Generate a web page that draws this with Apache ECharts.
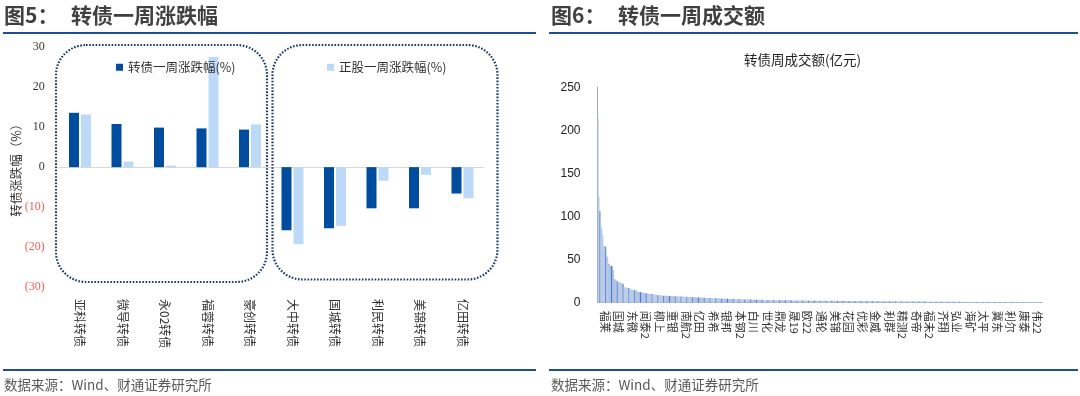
<!DOCTYPE html>
<html>
<head>
<meta charset="utf-8">
<script src="https://cdn.jsdelivr.net/npm/echarts@6/dist/echarts.min.js"></script>
<style>
html,body{margin:0;padding:0;background:#fff;}
#chart{width:1080px;height:396px;}
</style>
</head>
<body>
<div id="chart"></div>
<script>
// ---------- Chart 5: weekly change ----------
const changeCats = ['亚科转债','微导转债','永02转债','福蓉转债','豪创转债','大中转债','国城转债','利民转债','美锦转债','亿田转债'];
const bondChange = [13.6, 10.8, 9.9, 9.7, 9.4, -15.8, -15.3, -10.3, -10.3, -6.6];
const stockChange = [13.2, 1.4, 0.4, 27.6, 10.7, -19.3, -14.7, -3.4, -1.9, -7.8];
const changeTicks = [-30, -20, -10, 0, 10, 20, 30];

// ---------- Chart 6: weekly turnover (100m CNY), sorted ----------
const volumeLabels = ['福莱','国城','东微','闻泰2','柳上','重银','南航2','亿田','希希','银邦','本钢2','白川','世化','鼎龙','晟19','欧22','通轮','美锦','花园','优彩','金威','利群','精测2','奇帝','福未2','齐翔','弘业','海矿','太平','冀东','利尔','康泰','伟22'];
const volumeValues = [
214,123,106,89,85.5,78.6,66,65.5,65,55,53,45.5,45,43,42.5,42,38,27.5,27,26,
24.5,24.4,24,23.6,22.5,22.3,22,
18,17.8,17.6,17.4,17.2,17,16.5,
15.5,15.2,15,14.8,14.6,14.3,14,
13,12.6,12.4,12.2,12,11.8,11.5,
11.2,11,10.9,10.7,10.5,10.4,10.2,10.1,10,9.8,9.6,9.4,9.2,9,
8.8,8.7,8.6,8.5,8.4,8.3,8.2,8.2,8.1,8.0,7.9,7.9,7.8,7.8,7.7,7.6,7.6,7.5,7.5,7.4,7.4,7.3,7.3,7.2,7.2,7.1,7.1,7.0,
6.9,6.8,6.8,6.7,6.6,6.6,6.5,6.5,6.4,6.3,6.3,6.2,6.2,6.1,6.0,6.0,5.9,5.9,5.8,5.8,5.7,5.7,5.6,5.6,5.5,5.5,5.4,5.4,5.3,5.3,5.2,5.2,5.1,5.1,5.0,
4.9,4.9,4.8,4.8,4.7,4.7,4.6,4.6,4.5,4.5,4.4,4.4,4.3,4.3,4.3,4.2,4.2,4.1,4.1,4.1,4.0,4.0,4.0,3.9,3.9,3.9,3.8,3.8,3.8,3.7,3.7,3.7,3.7,3.6,3.6,
3.5,3.5,3.5,3.4,3.4,3.4,3.4,3.3,3.3,3.3,3.3,3.2,3.2,3.2,3.2,3.1,3.1,3.1,3.1,3.0,
3.0,3.0,3.0,3.0,2.9,2.9,2.9,2.9,2.9,2.8,2.8,2.8,2.8,2.8,2.8,2.7,2.7,2.7,2.7,2.7,
2.7,2.6,2.6,2.6,2.6,2.6,2.6,2.6,2.5,2.5,2.5,2.5,2.5,2.5,2.5,2.5,2.4,2.4,2.4,2.4,
2.4,2.4,2.4,2.4,2.4,2.3,2.3,2.3,2.3,2.3,2.3,2.3,2.3,2.3,2.3,2.3,2.2,2.2,2.2,2.2,
2.2,2.2,2.2,2.2,2.2,2.2,2.2,2.2,2.1,2.1,2.1,2.1,2.1,2.1,2.1,2.1,2.1,
2.1,2.0,2.0,2.0,2.0,2.0,2.0,2.0,2.0,1.9,1.9,1.9,1.9,1.9,1.9,1.9,1.9,1.9,1.8,1.8,
1.8,1.8,1.8,1.8,1.8,1.8,1.8,1.8,1.7,1.7,1.7,1.7,1.7,1.7,1.7,1.7,1.7,1.7,1.6,1.6,
1.6,1.6,1.6,1.6,1.6,1.6,1.6,1.6,1.6,1.5,1.5,1.5,1.5,1.5,1.5,1.5,1.5,1.5,1.5,1.5,
1.4,1.4,1.4,1.4,1.4,1.4,1.4,1.4,1.4,1.4,1.4,1.3,1.3,1.3,1.3,1.3,1.3,1.3,1.3,1.3,
1.3,1.3,1.3,1.2,1.2,1.2,1.2,1.2,1.2,1.2,1.2,1.2,1.2,1.2,1.2,1.1,1.1,1.1,1.1,1.1,
1.1,1.1,1.1,1.1,1.1,1.1,1.1,1.0,1.0,1.0,1.0,1.0,1.0,1.0,1.0,1.0,1.0,1.0,1.0,1.0,
1.0,0.9,0.9,0.9,0.9,0.9,0.9,0.9,0.9,0.9,0.9,0.9,0.9,0.9,0.9,0.9,0.9,0.9,0.8,0.8,
0.8,0.8,0.8,0.8,0.8,0.8,0.8,0.8,0.8,0.8,0.8,0.8,0.8,0.8,0.8,0.8,0.7,0.7,
0.7,0.7,0.7,0.7,0.7,0.7,0.7,0.7,0.7,0.7,0.7,0.7,0.7,0.7,0.7,0.7,0.7,0.7,0.7,0.7,
0.7,0.7,0.6,0.6,0.6,0.6,0.6,0.6,0.6,0.6,0.6,0.6,0.6,0.6,0.6,0.6,0.6,0.6,0.6,0.6,
0.6,0.5,0.5,0.5,0.5
];
const volumeTicks = [0, 50, 100, 150, 200, 250];
const LABEL_STEP = 14, LABEL_OFFSET = 7;
const volumeCats = volumeValues.map((v, i) =>
  (i % LABEL_STEP === LABEL_OFFSET && volumeLabels[(i - LABEL_OFFSET) / LABEL_STEP]) || ('b' + i));

const CJK = '"Noto Sans CJK SC", "Noto Sans", sans-serif';
const chart = echarts.init(document.getElementById('chart'), null, {renderer: 'canvas'});

function titleText(x, text) {
  return {type: 'text', left: x, top: 5, style: {text: text, fill: '#404040', fontSize: 21, fontWeight: 'bold', fontFamily: CJK}};
}
function hline(x1, x2, y) {
  return {type: 'line', shape: {x1: x1, y1: y, x2: x2, y2: y}, style: {stroke: '#1f4e96', lineWidth: 2}};
}
function dottedBox(x, y, w, h) {
  return {type: 'rect', shape: {x: x, y: y, width: w, height: h, r: 30}, z: 1,
    style: {fill: 'none', stroke: '#1f3864', lineWidth: 2.2, lineDash: [1.6, 1.6]}};
}

const option = {
  animation: false,
  backgroundColor: '#ffffff',
  graphic: [
    titleText(4, '图5：'), titleText(71, '转债一周涨跌幅'),
    titleText(551, '图6：'), titleText(618, '转债一周成交额'),
    hline(3, 536, 33), hline(549, 1078, 33),
    hline(3, 536, 370), hline(549, 1078, 370),
    {type: 'text', left: 4, top: 378, style: {text: '数据来源：Wind、财通证券研究所', fill: '#595959', fontSize: 13.5, fontFamily: CJK}},
    {type: 'text', left: 551, top: 378, style: {text: '数据来源：Wind、财通证券研究所', fill: '#595959', fontSize: 13.5, fontFamily: CJK}},
    dottedBox(56, 45, 211, 237),
    dottedBox(272.5, 45, 225, 234.5),
    {type: 'text', left: 744, top: 53, style: {text: '转债周成交额(亿元)', fill: '#222', fontSize: 13.5, fontFamily: CJK}}
  ],
  legend: [
    {data: ['转债一周涨跌幅(%)'], left: 111, top: 56, icon: 'rect', itemWidth: 7, itemHeight: 7,
      textStyle: {fontSize: 12.5, color: '#333', fontFamily: CJK}},
    {data: ['正股一周涨跌幅(%)'], left: 322, top: 56, icon: 'rect', itemWidth: 7, itemHeight: 7,
      textStyle: {fontSize: 12.5, color: '#333', fontFamily: CJK}}
  ],
  grid: [
    {left: 58.75, width: 425, top: 47.3, height: 239.7},
    {left: 597.5, right: 38, top: 87.3, height: 215.4}
  ],
  xAxis: [
    {gridIndex: 0, type: 'category', data: changeCats, position: 'bottom',
      axisLine: {show: false, onZero: false}, axisTick: {show: false},
      axisLabel: {rotate: -90, margin: 12, fontSize: 12, color: '#333', fontFamily: CJK, interval: 0}},
    {gridIndex: 0, type: 'category', data: changeCats,
      axisLine: {show: true, onZero: true, lineStyle: {color: '#d9d9d9', width: 1}},
      axisTick: {show: false}, axisLabel: {show: false}},
    {gridIndex: 1, type: 'category', data: volumeCats,
      axisLine: {show: true, lineStyle: {color: '#bfbfbf', width: 1}}, axisTick: {show: false},
      axisLabel: {rotate: -90, margin: 8, fontSize: 11, color: '#333', fontFamily: CJK,
        interval: (i) => i % LABEL_STEP === LABEL_OFFSET}}
  ],
  yAxis: [
    {gridIndex: 0, type: 'value', min: changeTicks[0], max: changeTicks[changeTicks.length - 1], interval: 10,
      name: '转债涨跌幅（%）', nameLocation: 'middle', nameGap: 36, nameRotate: 90, nameMoveOverlap: false,
      nameTextStyle: {fontSize: 12.5, color: '#333', fontFamily: CJK},
      axisLine: {show: false}, axisTick: {show: false}, splitLine: {show: false},
      axisLabel: {margin: 14, fontSize: 12, fontFamily: '"Liberation Serif", serif',
        formatter: v => v < 0 ? '{n|(' + (-v) + ')}' : '{p|' + v + '}',
        rich: {n: {color: '#ff5a5a', fontSize: 12, fontFamily: '"Liberation Serif", serif'},
               p: {color: '#333', fontSize: 12, fontFamily: '"Liberation Serif", serif'}}}},
    {gridIndex: 1, type: 'value', min: volumeTicks[0], max: volumeTicks[volumeTicks.length - 1], interval: 50,
      axisLine: {show: true, lineStyle: {color: '#a6a6a6'}}, axisTick: {show: false}, splitLine: {show: false},
      axisLabel: {margin: 17, fontSize: 12, color: '#222', fontFamily: '"Liberation Sans", Arial, sans-serif'}}
  ],
  series: [
    {name: '转债一周涨跌幅(%)', type: 'bar', xAxisIndex: 0, yAxisIndex: 0, data: bondChange,
      barWidth: 10, barGap: '20%', itemStyle: {color: '#004c9e'}, z: 3},
    {name: '正股一周涨跌幅(%)', type: 'bar', xAxisIndex: 0, yAxisIndex: 0, data: stockChange,
      barWidth: 10, barGap: '20%', itemStyle: {color: '#bdd9f8'}, z: 3},
    {name: '成交额', type: 'bar', xAxisIndex: 2, yAxisIndex: 1, data: volumeValues,
      barCategoryGap: '10%',
      itemStyle: {color: p => (p.dataIndex % 6 === 2 ? '#4a78c2' : '#a9bfe4')}}
  ]
};
chart.setOption(option);
</script>
</body>
</html>
